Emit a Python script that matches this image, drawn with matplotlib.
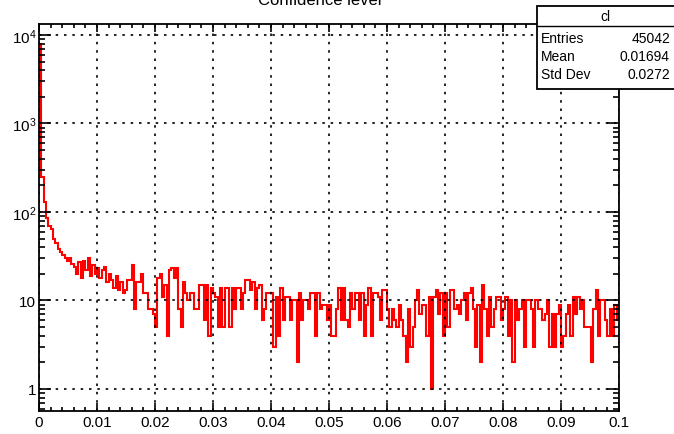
import numpy as np
import matplotlib
matplotlib.use("Agg")
import matplotlib.pyplot as plt
from matplotlib.patches import Rectangle
from matplotlib.ticker import FixedLocator, FixedFormatter, MultipleLocator

plt.rcParams['font.family'] = ['Liberation Sans', 'DejaVu Sans']
plt.rcParams['mathtext.default'] = 'regular'

# histogram "cl": 250 bins from 0 to 0.1 (counts)
nbins, xlow, xup = 250, 0.0, 0.1
counts = [
    8000, 250, 130, 85, 70, 65, 50, 45, 38, 35, 33, 30, 28, 30, 26, 24, 20, 27, 18, 28,
    22, 30, 19, 25, 20, 23, 18, 22, 24, 16, 20, 17, 14, 19, 13, 16, 12,
    13, 17, 17, 25, 8, 16, 16, 20, 12, 12, 8, 8, 7, 5, 18, 20, 11, 15, 4, 22,
    23, 18, 23, 8, 5, 16, 12, 10, 12, 12, 8, 8, 15, 15, 6, 15, 4, 14,
    12, 11, 5, 14, 5, 14, 14, 5, 14, 8, 14, 14, 8, 12, 17, 17, 13, 16, 8, 14,
    15, 6, 8, 12, 12, 12, 3, 11, 4, 14, 6, 11, 11, 6, 10, 10, 2,
    12, 6, 10, 10, 8, 12, 12, 4, 12, 8, 9, 9, 6, 9, 4, 4, 8, 14, 6, 14,
    6, 5, 12, 8, 12, 12, 6, 12, 4, 9, 14, 4, 12, 12, 11,
    6, 13, 13, 8, 5, 8, 6, 5, 9, 6, 4, 2, 8, 3, 5, 10, 13, 7, 9, 9,
    4, 11, 1, 11, 13, 7, 12, 4, 12, 5, 13, 13, 8, 9, 7,
    10, 12, 6, 12, 14, 8, 3, 9, 2, 15, 8, 4, 11, 5, 8, 11, 11, 6, 8, 11,
    4, 10, 2, 10, 6, 8, 10, 3, 10, 10, 8, 3, 10, 8, 8, 6,
    7, 10, 3, 7, 3, 7, 9, 3, 4, 7, 9, 4, 11, 7, 11, 8, 10, 5, 5, 5,
    2, 8, 13, 4, 10, 10, 6, 4, 8, 4, 9, 6,
]

xticks = [0, 0.01, 0.02, 0.03, 0.04, 0.05, 0.06, 0.07, 0.08, 0.09, 0.1]
xticklabels = ['0', '0.01', '0.02', '0.03', '0.04', '0.05', '0.06', '0.07', '0.08', '0.09', '0.1']
yticks = [1, 10, 100, 1000, 10000]
yticklabels = ['1', '10', r'$10^{2}$', r'$10^{3}$', r'$10^{4}$']

title = 'Confidence level'
stat_name = 'cl'
stat_rows = [('Entries', '45042'), ('Mean', '0.01694'), ('Std Dev', '0.0272')]

W, H = 674, 435
fig = plt.figure(figsize=(W / 100, H / 100), dpi=100)
ax = fig.add_axes([39 / W, 23 / H, 580 / W, 387 / H])

edges = np.linspace(xlow, xup, nbins + 1)
ax.stairs(counts, edges, color='#ff0000', lw=1.5, baseline=None)

ax.set_yscale('log')
ax.set_xlim(xlow, xup)
ax.set_ylim(0.564, 13300)

ax.xaxis.set_major_locator(FixedLocator(xticks))
ax.xaxis.set_major_formatter(FixedFormatter(xticklabels))
ax.xaxis.set_minor_locator(MultipleLocator(0.002))
ax.yaxis.set_major_locator(FixedLocator(yticks))
ax.yaxis.set_major_formatter(FixedFormatter(yticklabels))
ax.yaxis.set_minor_locator(matplotlib.ticker.LogLocator(base=10, subs=np.arange(2, 10)))
ax.yaxis.set_minor_formatter(matplotlib.ticker.NullFormatter())

ax.tick_params(axis='both', which='both', direction='in', top=True, right=True,
               labelsize=11, colors='black', width=1.2)
ax.tick_params(axis='x', which='major', length=6, pad=3)
ax.tick_params(axis='x', which='minor', length=3)
ax.tick_params(axis='y', which='major', length=8.6, pad=2)
ax.tick_params(axis='y', which='minor', length=4.3)

ax.grid(True, which='major', color='black', linestyle=(0, (1.5, 3.5)), lw=1.2)
for sp in ax.spines.values():
    sp.set_linewidth(1.3)

fig.text(320 / W, 1 - 5 / H, title, ha='center', va='baseline', fontsize=12)

# stats box
bx0, by0, by1 = 537 / W, 1 - 90 / H, 1 - 7 / H
fig.add_artist(Rectangle((bx0, by0), 1.0 - bx0 + 0.01, by1 - by0, transform=fig.transFigure,
                         facecolor='white', edgecolor='black', lw=1.3, clip_on=False, zorder=5))
fig.add_artist(plt.Line2D([bx0, 1.0], [1 - 27 / H, 1 - 27 / H], transform=fig.transFigure,
                          color='black', lw=1.0, zorder=6))
fig.text(605 / W, 1 - 17 / H, stat_name, ha='center', va='center', fontsize=10, zorder=7)
row_y = [39, 57, 75]
for (lab, val), yy in zip(stat_rows, row_y):
    fig.text(541 / W, 1 - yy / H, lab, ha='left', va='center', fontsize=10, zorder=7)
    fig.text(670 / W, 1 - yy / H, val, ha='right', va='center', fontsize=10, zorder=7)

fig.savefig('out.png', dpi=100)
